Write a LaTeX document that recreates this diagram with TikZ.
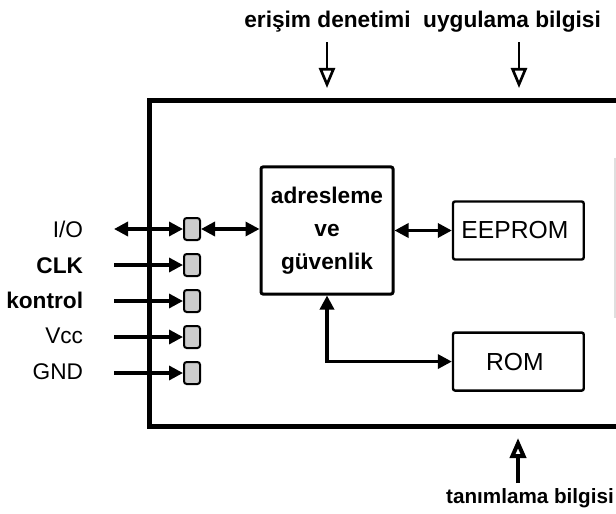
\documentclass[tikz,border=0pt]{standalone}
\usepackage{fontspec}
\setmainfont{Liberation Sans}
\usetikzlibrary{arrows.meta, positioning}

\begin{document}
\begin{tikzpicture}[
    x=0.75pt, y=-0.75pt,
    node distance=9pt,
    txt/.style={
        inner sep=2pt,
        font=\fontsize{17}{20}\selectfont
    },
    boldtxt/.style={
        inner sep=2pt,
        font=\fontsize{17}{20}\selectfont\bfseries
    },
    chip/.style={
        rectangle,
        draw,
        line width=3.75pt,
        minimum width=367.9pt,
        minimum height=244.5pt,
        inner sep=0pt
    },
    block/.style={
        rectangle,
        rounded corners=1.5pt,
        draw,
        line width=1.8pt,
        align=center,
        minimum width=98pt,
        minimum height=43.5pt,
        font=\fontsize{18.5}{22}\selectfont
    },
    padbox/.style={
        rectangle,
        rounded corners=2pt,
        draw,
        fill=gray!40,
        line width=1.5pt,
        minimum width=12pt,
        minimum height=16.5pt,
        inner sep=0pt
    },
    arrow/.style={
        line width=2.5pt,
        -{Triangle[length=10.5pt, width=10.5pt]}
    },
    biarrow/.style={
        line width=2.5pt,
        {Triangle[length=10.5pt, width=10.5pt]}-{Triangle[length=10.5pt, width=10.5pt]}
    },
    hollow/.style={
        line width=2pt,
        -{Triangle[open, length=15pt, width=12pt]}
    }
]
\useasboundingbox (0,0) rectangle (616,513);

% ------------------------------------------------
% Chip outline
% ------------------------------------------------

\node[chip] (chip) at (394.75,263.5) {};

\draw[gray!25, line width=1pt] (615,158) -- (615,318);

% ------------------------------------------------
% Inner blocks
% ------------------------------------------------

\node[block, line width=2.25pt, minimum width=99pt, minimum height=95.25pt,
      font=\fontsize{17}{24.75}\selectfont\bfseries] (adr) at (327,230.5) {
    adresleme\\
    ve\\
    güvenlik
};

\node[block, right=43pt of adr] (eep) {
    EEPROM
};

\node[block, below=53pt of eep] (rom) {
    ROM
};

% ------------------------------------------------
% Contacts and signal names
% ------------------------------------------------

\node[padbox] (pio) at (192,229) {};
\node[padbox, below=of pio] (pclk) {};
\node[padbox, below=of pclk] (pctl) {};
\node[padbox, below=of pctl] (pvcc) {};
\node[padbox, below=of pvcc] (pgnd) {};

\node[txt, anchor=base east] (lio) at (86,237) {I/O};
\node[boldtxt, anchor=base east] (lclk) at (86,273) {CLK};
\node[boldtxt, anchor=base east] (lctl) at (86,308) {kontrol};
\node[txt, anchor=base east] (lvcc) at (86,343) {Vcc};
\node[txt, anchor=base east] (lgnd) at (86,379) {GND};

% ------------------------------------------------
% Outside information
% ------------------------------------------------

\node[boldtxt, anchor=base] (lacc) at (327.5,28) {erişim denetimi};
\node[boldtxt, anchor=base] (lapp) at (512,28) {uygulama bilgisi};
\node[boldtxt, anchor=base, font=\fontsize{15.5}{18}\selectfont\bfseries] (lid) at (530,503) {tanımlama bilgisi};

\coordinate (accin) at (327,88);
\coordinate (appin) at (519,88);
\coordinate (idin) at (518,438);

% ------------------------------------------------
% Arrows: contacts
% ------------------------------------------------

\draw[biarrow, shorten <=21pt] (lio.east |- pio.west) -- (pio.west);
\draw[arrow, shorten <=21pt] (lclk.east |- pclk.west) -- (pclk.west);
\draw[arrow, shorten <=21pt] (lctl.east |- pctl.west) -- (pctl.west);
\draw[arrow, shorten <=21pt] (lvcc.east |- pvcc.west) -- (pvcc.west);
\draw[arrow, shorten <=21pt] (lgnd.east |- pgnd.west) -- (pgnd.west);

% ------------------------------------------------
% Arrows: inner blocks
% ------------------------------------------------

\draw[biarrow] (pio.east) -- (pio.east -| adr.west);
\draw[biarrow] (adr.east) -- (eep.west);
\draw[biarrow] (adr.south) |- (rom.west);

% ------------------------------------------------
% Arrows: outside information
% ------------------------------------------------

\draw[hollow, shorten <=5pt] (accin |- lacc.south) -- (accin);
\draw[hollow, shorten <=5pt] (appin |- lapp.south) -- (appin);
\draw[hollow, line width=3pt, shorten <=1.5pt] (idin |- lid.north) -- (idin);

\end{tikzpicture}
\end{document}
